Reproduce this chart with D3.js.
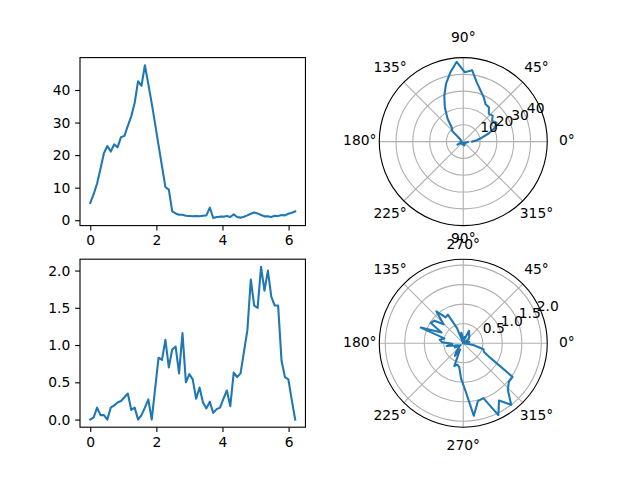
<!DOCTYPE html>
<html><head><meta charset="utf-8">
<script src="https://cdn.jsdelivr.net/npm/d3@7"></script>
<style>body{margin:0;background:#fff}svg{display:block}</style>
</head><body>
<svg id="c" width="640" height="480"></svg>
<script>
// ---- data ----
const theta = [0, 0.1033, 0.2067, 0.31, 0.4133, 0.5167, 0.62, 0.7233, 0.8267, 0.93, 1.0333, 1.1367, 1.24, 1.3433, 1.4467, 1.55, 1.6533, 1.7567, 1.86, 1.9633, 2.0667, 2.17, 2.2733, 2.3767, 2.48, 2.5833, 2.6867, 2.79, 2.8933, 2.9967, 3.1, 3.2033, 3.3067, 3.41, 3.5133, 3.6167, 3.72, 3.8233, 3.9267, 4.03, 4.1333, 4.2367, 4.34, 4.4433, 4.5467, 4.65, 4.7533, 4.8567, 4.96, 5.0633, 5.1667, 5.27, 5.3733, 5.4767, 5.58, 5.6833, 5.7867, 5.89, 5.9933, 6.0967, 6.2];
const rTop = [5.3, 8.0, 11.3, 15.8, 20.6, 22.8, 21.1, 23.3, 22.4, 25.5, 25.9, 29.0, 31.9, 36.0, 42.7, 41.3, 47.6, 41.8, 35.9, 29.5, 23.0, 16.6, 10.2, 9.4, 2.7, 2.1, 1.7, 1.7, 1.4, 1.3, 1.2, 1.3, 1.2, 1.4, 1.5, 3.9, 0.7, 1.0, 1.1, 1.1, 1.3, 1.0, 1.8, 1.0, 0.8, 1.1, 1.5, 2.0, 2.4, 2.1, 1.6, 1.2, 1.2, 1.0, 1.4, 1.3, 1.6, 1.5, 2.0, 2.3, 2.7];
const rBottom = [0, 0.03, 0.16, 0.06, 0.06, 0.0, 0.16, 0.19, 0.23, 0.25, 0.30, 0.35, 0.13, 0.16, 0.0, 0.06, 0.16, 0.27, 0.0, 0.42, 0.83, 0.80, 1.07, 0.70, 0.94, 0.98, 0.62, 1.16, 0.50, 0.61, 0.54, 0.28, 0.43, 0.23, 0.15, 0.24, 0.09, 0.14, 0.16, 0.28, 0.39, 0.18, 0.63, 0.57, 0.62, 0.91, 1.20, 1.88, 1.53, 1.50, 2.05, 1.73, 2.00, 1.65, 1.53, 1.53, 0.79, 0.57, 0.54, 0.26, 0.0];
const xTicks = [0, 2, 4, 6];
const yTicksTop = [0, 10, 20, 30, 40];
const yTicksBottom = [0.0, 0.5, 1.0, 1.5, 2.0];
const rTicksTop = [10, 20, 30, 40];
const rTicksBottom = [0.5, 1.0, 1.5, 2.0];
const thetaTickDeg = [0, 45, 90, 135, 180, 225, 270, 315];

// ---- style ----
const FONT = "DejaVu Sans";
const FS = 13.89;
const LINE = "#1f77b4";
const LW = 2.08;
const SPW = 1.11;
const GRID = "#b0b0b0";
const TL = 4.86, TP = 4.86;

const svg = d3.select("#c");

// layout (matplotlib subplots 2x2 defaults)
const W = 640, H = 480;
const L = 0.125*W, R = 0.9*W, T = (1-0.88)*H, B = (1-0.11)*H;
const aw = (R-L)/2.2, ah = (B-T)/2.2;
const cols = [L, L + aw*1.2];
const rows = [T, T + ah*1.2];

function pad(ext){const d=ext[1]-ext[0];return [ext[0]-0.05*d, ext[1]+0.05*d];}

function cartesian(x0, y0, r, yTicks, fmt){
  const g = svg.append("g");
  const x = d3.scaleLinear().domain(pad(d3.extent(theta))).range([x0, x0+aw]);
  const y = d3.scaleLinear().domain(pad(d3.extent(r))).range([y0+ah, y0]);
  const data = theta.map((t,i)=>[t, r[i]]);
  g.append("path").datum(data)
    .attr("d", d3.line().x(d=>x(d[0])).y(d=>y(d[1])))
    .attr("fill","none").attr("stroke",LINE).attr("stroke-width",LW)
    .attr("stroke-linejoin","round").attr("stroke-linecap","square");
  g.append("rect").attr("x",x0).attr("y",y0).attr("width",aw).attr("height",ah)
    .attr("fill","none").attr("stroke","#000").attr("stroke-width",SPW);
  const ax = g.append("g").attr("transform",`translate(0,${y0+ah})`)
    .call(d3.axisBottom(x).tickValues(xTicks).tickFormat(d3.format("d")).tickSize(TL).tickPadding(TP));
  const ay = g.append("g").attr("transform",`translate(${x0},0)`)
    .call(d3.axisLeft(y).tickValues(yTicks).tickFormat(fmt).tickSize(TL).tickPadding(TP));
  [ax, ay].forEach(a=>{
    a.select(".domain").remove();
    a.selectAll("line").attr("stroke","#000").attr("stroke-width",SPW);
    a.selectAll("text").attr("font-family",FONT).attr("font-size",FS).attr("fill","#000");
  });
}

function polar(cx, cy, r, rTicks, fmt){
  const g = svg.append("g").attr("transform",`translate(${cx},${cy})`);
  const Rad = ah/2;
  const ext = d3.extent(r);
  const rmax = ext[1] + 0.05*(ext[1]-ext[0]);
  const rs = d3.scaleLinear().domain([0, rmax]).range([0, Rad]);
  // grid circles
  g.selectAll("circle.grid").data(rTicks).join("circle")
    .attr("r", d=>rs(d)).attr("fill","none").attr("stroke",GRID).attr("stroke-width",SPW);
  // angular grid
  g.selectAll("line.ag").data(thetaTickDeg).join("line")
    .attr("x1",0).attr("y1",0)
    .attr("x2", d=>Rad*Math.cos(d*Math.PI/180))
    .attr("y2", d=>-Rad*Math.sin(d*Math.PI/180))
    .attr("stroke",GRID).attr("stroke-width",SPW);
  // data line
  const data = theta.map((t,i)=>[t, r[i]]);
  g.append("path").datum(data)
    .attr("d", d3.lineRadial().angle(d=>Math.PI/2 - d[0]).radius(d=>rs(d[1])))
    .attr("fill","none").attr("stroke",LINE).attr("stroke-width",LW)
    .attr("stroke-linejoin","round").attr("stroke-linecap","square");
  // spine
  g.append("circle").attr("r",Rad).attr("fill","none").attr("stroke","#000").attr("stroke-width",SPW);
  // radial labels at 22.5 deg
  const a = 22.5*Math.PI/180;
  g.selectAll("text.rl").data(rTicks).join("text")
    .attr("x", d=>rs(d)*Math.cos(a)+1.4)
    .attr("y", d=>-rs(d)*Math.sin(a)-2.7)
    .attr("font-family",FONT).attr("font-size",FS).attr("fill","#000")
    .text(fmt);
  // theta labels
  const LR = Rad + 19.5;
  g.selectAll("text.tl").data(thetaTickDeg).join("text")
    .attr("x", d=>LR*Math.cos(d*Math.PI/180))
    .attr("y", d=>-LR*Math.sin(d*Math.PI/180)+3.6)
    .attr("text-anchor","middle")
    .attr("font-family",FONT).attr("font-size",FS).attr("fill","#000")
    .text(d=>d+"°");
}

cartesian(cols[0], rows[0], rTop, yTicksTop, d3.format("d"));
polar(cols[1]+aw/2, rows[0]+ah/2, rTop, rTicksTop, d3.format("d"));
cartesian(cols[0], rows[1], rBottom, yTicksBottom, d3.format(".1f"));
polar(cols[1]+aw/2, rows[1]+ah/2, rBottom, rTicksBottom, d3.format(".1f"));
</script>
</body></html>
